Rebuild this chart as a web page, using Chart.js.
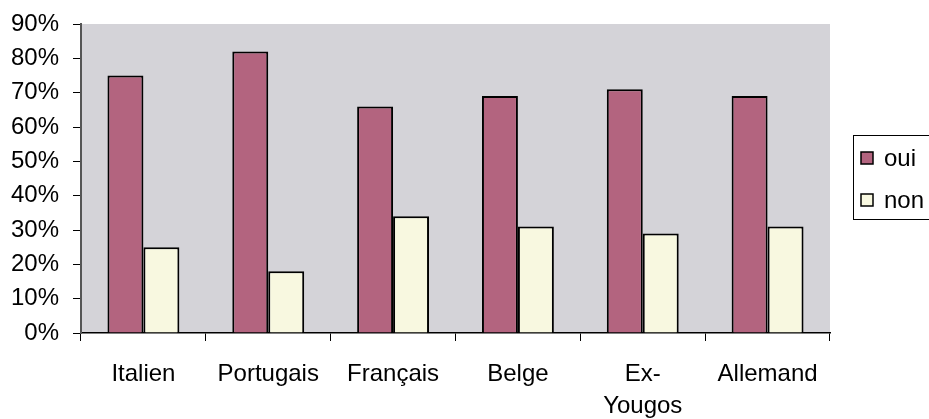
<!DOCTYPE html>
<html lang="fr">
<head>
<meta charset="UTF-8">
<title>oui / non</title>
<script src="https://cdn.jsdelivr.net/npm/chart.js@4.4.0/dist/chart.umd.min.js"></script>
<style>
  html, body { margin: 0; padding: 0; background: #fff; }
  #wrap { width: 929px; height: 419px; }
</style>
</head>
<body>
<div id="wrap"><canvas id="chart"></canvas></div>
<script>
// data
const categories = ['Italien', 'Portugais', 'Français', 'Belge', ['Ex-', 'Yougos'], 'Allemand'];
const ouiValues = [75, 82, 66, 69, 71, 69];
const nonValues = [25, 18, 34, 31, 29, 31];
const yTicks = [0, 10, 20, 30, 40, 50, 60, 70, 80, 90];

const FONT = "'Liberation Sans', Arial, sans-serif";

// grey plot background
const plotBg = {
  id: 'plotBg',
  beforeDraw(chart) {
    const a = chart.chartArea, ctx = chart.ctx;
    ctx.save();
    ctx.fillStyle = '#d4d3d8';
    ctx.fillRect(a.left, a.top, a.right - a.left, a.bottom - a.top);
    ctx.restore();
  }
};

// boxed legend on the right, like the old office chart
const boxLegend = {
  id: 'boxLegend',
  afterDraw(chart) {
    const ctx = chart.ctx;
    const x = 853, y = 135, w = 90, h = 84;
    ctx.save();
    ctx.strokeStyle = '#000';
    ctx.lineWidth = 1;
    ctx.strokeRect(x + 0.5, y + 0.5, w, h);
    ctx.font = '24px ' + FONT;
    ctx.textBaseline = 'middle';
    chart.data.datasets.forEach((ds, i) => {
      const cy = y + 23 + i * 42;
      ctx.fillStyle = ds.backgroundColor;
      ctx.fillRect(x + 8, cy - 6, 12, 12);
      ctx.lineWidth = 1.5;
      ctx.strokeRect(x + 8, cy - 6, 12, 12);
      ctx.fillStyle = '#000';
      ctx.fillText(ds.label, x + 31, cy + 1);
    });
    ctx.restore();
  }
};

new Chart(document.getElementById('chart'), {
  type: 'bar',
  data: {
    labels: categories,
    datasets: [
      { label: 'oui', data: ouiValues, backgroundColor: '#b3647f', borderColor: '#000', borderWidth: 2 },
      { label: 'non', data: nonValues, backgroundColor: '#f8f8e0', borderColor: '#000', borderWidth: 2 }
    ]
  },
  options: {
    responsive: true,
    maintainAspectRatio: false,
    animation: false,
    datasets: { bar: { categoryPercentage: 0.576, barPercentage: 1 } },
    layout: { padding: { top: 24, right: 99, left: 0, bottom: 0 } },
    plugins: { legend: { display: false }, tooltip: { enabled: false } },
    scales: {
      x: {
        grid: { offset: true, drawOnChartArea: false, drawTicks: true, tickLength: 8, color: '#000' },
        border: { color: '#000', width: 1.5 },
        ticks: { color: '#000', font: { family: FONT, size: 24, lineHeight: 1.35 }, padding: 17, maxRotation: 0, autoSkip: false },
        afterFit(s) { s.height = 86; }
      },
      y: {
        min: 0, max: 90,
        afterBuildTicks(s) { s.ticks = yTicks.map(v => ({ value: v })); },
        grid: { drawOnChartArea: false, drawTicks: true, tickLength: 8, color: '#000' },
        border: { color: '#555', width: 2 },
        ticks: { color: '#000', font: { family: FONT, size: 24 }, padding: 14, callback: v => v + '%' },
        afterFit(s) { s.width = 81; s.paddingTop = 0; s.paddingBottom = 0; }
      }
    }
  },
  plugins: [plotBg, boxLegend]
});
</script>
</body>
</html>
